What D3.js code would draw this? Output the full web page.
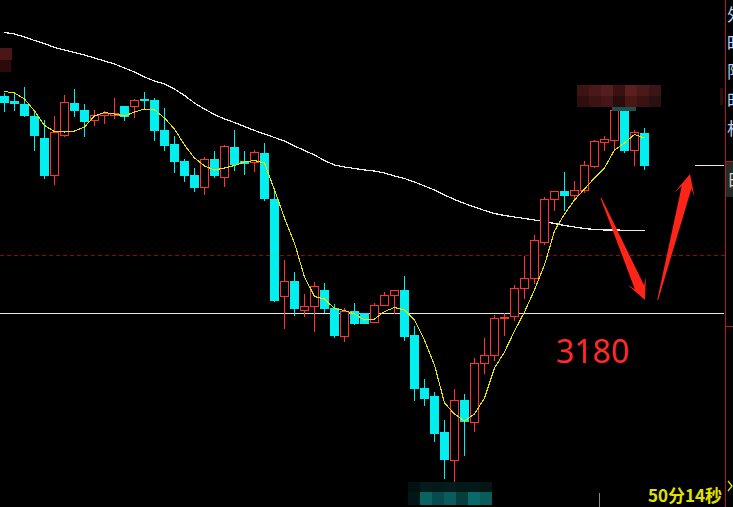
<!DOCTYPE html>
<html><head><meta charset="utf-8">
<script src="https://cdn.jsdelivr.net/npm/d3@7/dist/d3.min.js"></script>
<style>html,body{margin:0;padding:0;background:#000;overflow:hidden}</style>
</head><body><svg id="c" width="733" height="507"></svg>
<script>
// ---- data (index points) ----
const opens  = [3223.4,3222.3,3221.8,3219.4,3215.0,3207.5,3215.7,3222.0,3220.6,3218.7,3219.5,3219.5,3221.4,3221.3,3222.8,3222.6,3216.6,3213.8,3210.4,3207.6,3205.1,3210.8,3207.1,3213.2,3210.4,3210.1,3211.9,3202.8,3183.3,3186.3,3180.5,3181.3,3184.7,3180.9,3175.3,3180.3,3179.9,3178.1,3181.5,3183.5,3184.5,3175.6,3165.0,3163.4,3156.2,3150.5,3162.6,3158.1,3169.9,3171.5,3178.9,3179.3,3184.9,3186.9,3194.1,3202.8,3204.4,3203.5,3204.7,3209.4,3214.1,3214.6,3220.6,3212.7,3215.9];
const highs  = [3223.9,3223.9,3225.2,3220.3,3218.5,3219.4,3223.6,3224.8,3221.8,3220.6,3220.4,3223.0,3221.4,3222.8,3224.2,3223.0,3220.9,3215.4,3210.8,3208.9,3211.1,3212.4,3213.7,3216.6,3212.4,3212.6,3214.0,3204.3,3190.6,3188.1,3183.8,3186.2,3185.9,3181.8,3180.9,3181.9,3180.0,3181.9,3184.1,3184.5,3187.3,3177.3,3166.8,3164.2,3158.6,3164.8,3163.8,3170.9,3174.9,3179.6,3179.9,3185.6,3191.4,3195.6,3203.1,3204.3,3208.2,3206.4,3210.3,3214.7,3215.3,3221.6,3221.6,3216.5,3216.9];
const lows   = [3220.3,3220.6,3219.3,3212.6,3206.9,3205.8,3215.4,3219.3,3215.3,3217.5,3217.9,3218.9,3218.7,3219.1,3220.9,3214.5,3212.7,3208.1,3206.3,3204.3,3203.8,3207.1,3205.3,3208.7,3207.8,3208.3,3202.5,3182.3,3176.9,3179.5,3179.3,3176.3,3180.1,3175.1,3174.4,3177.8,3177.9,3178.1,3181.5,3179.9,3174.6,3162.6,3161.5,3154.3,3147.0,3146.2,3151.5,3156.3,3167.9,3170.6,3175.6,3178.6,3182.9,3185.9,3193.8,3200.5,3200.6,3202.6,3204.1,3209.1,3212.6,3212.6,3212.1,3209.6,3208.8];
const closes = [3222.1,3221.9,3219.7,3215.7,3207.5,3216.1,3222.1,3220.5,3218.3,3219.5,3219.9,3219.9,3219.3,3222.5,3222.5,3216.5,3213.6,3210.3,3207.6,3205.1,3210.8,3207.6,3213.3,3209.8,3209.9,3212.1,3202.9,3182.7,3186.3,3180.9,3181.3,3185.3,3180.9,3175.7,3180.3,3177.9,3177.9,3181.5,3183.5,3184.5,3175.3,3164.9,3162.9,3155.9,3150.8,3162.5,3158.3,3169.9,3171.5,3178.9,3179.1,3184.9,3186.9,3194.6,3202.8,3204.3,3203.5,3204.7,3209.5,3214.4,3214.8,3220.5,3212.6,3216.1,3209.5];
const maShort = [3224.3,3224.0,3222.8,3220.4,3217.5,3216.3,3216.2,3216.4,3217.2,3219.4,3220.1,3219.8,3219.4,3220.2,3220.8,3220.6,3219.0,3216.8,3213.6,3211.0,3209.4,3208.6,3209.0,3209.5,3210.2,3210.5,3210.0,3204.6,3199.0,3194.0,3187.2,3183.3,3182.8,3180.9,3180.5,3179.8,3178.6,3178.8,3180.3,3181.1,3180.6,3178.6,3174.6,3169.6,3162.0,3159.8,3158.4,3159.8,3163.0,3169.0,3172.2,3176.4,3180.2,3184.6,3189.6,3196.4,3199.8,3202.6,3204.8,3207.0,3209.0,3212.6,3214.0,3215.7,3215.0];
const maLong  = [3236.1,3235.8,3235.2,3234.5,3233.9,3233.1,3232.6,3232.1,3231.6,3231.0,3230.4,3229.8,3229.0,3228.2,3227.2,3226.4,3225.8,3224.8,3223.5,3222.0,3220.8,3219.7,3218.8,3218.1,3217.3,3216.5,3215.8,3215.1,3214.4,3213.4,3212.5,3211.6,3210.5,3209.6,3209.2,3208.9,3208.6,3208.4,3208.0,3207.4,3206.9,3206.2,3205.4,3204.6,3203.6,3202.7,3201.9,3201.2,3200.5,3199.9,3199.5,3199.2,3198.9,3198.6,3198.3,3197.9,3197.5,3197.2,3196.9,3196.7,3196.6,3196.6,3196.56,3196.54,3196.54];
const supportLevel = 3180;
const dashedLevel = 3191.5;
const shortLevel = 3209.6;
const labelText = "3180";
const timerText = "50分14秒";
const sideChars = ["外","昨","限","时","相"];
// arrows in (index, price): tail -> tip
const arrows = [
  {from:[59.7,3203.0], to:[64.1,3182.6]},
  {from:[65.37,3182.6], to:[68.6,3207.8]}
];

// ---- drawing ----
const W = 733, H = 507;
const svg = d3.select('#c');
svg.append('rect').attr('width', W).attr('height', H).attr('fill', '#000');

const x = d3.scaleLinear().domain([0, 64]).range([4, 644]);
const y = d3.scaleLinear().domain([3141.2, 3242.6]).range([507, 0]);
const R = v => Math.round(y(v));

const RED = '#ff3333', CYAN = '#00f0f0';

// horizontal levels
svg.append('line').attr('x1', 0).attr('x2', 725).attr('y1', R(dashedLevel) + 0.5).attr('y2', R(dashedLevel) + 0.5)
  .attr('stroke', '#8a0a0a').attr('stroke-dasharray', '4,3');
svg.append('line').attr('x1', 0).attr('x2', 724).attr('y1', R(supportLevel) + 0.5).attr('y2', R(supportLevel) + 0.5)
  .attr('stroke', '#e6e6e6');
svg.append('line').attr('x1', 695).attr('x2', 724).attr('y1', R(shortLevel) + 0.5).attr('y2', R(shortLevel) + 0.5)
  .attr('stroke', '#e6e6e6');

// long MA
const line = d3.line().x((d, i) => x(i) + 0.5).y(d => y(d));
svg.append('path').attr('d', line(maLong)).attr('fill', 'none').attr('stroke', '#ececec')
  .attr('stroke-width', 1.2).attr('shape-rendering', 'crispEdges');

// candles
const idx = d3.range(opens.length);
const g = svg.append('g').attr('shape-rendering', 'crispEdges');
g.selectAll('line.w').data(idx).join('line').attr('class', 'w')
  .attr('x1', i => x(i) + 0.5).attr('x2', i => x(i) + 0.5)
  .attr('y1', i => R(highs[i])).attr('y2', i => R(lows[i]) + 1)
  .attr('stroke', i => closes[i] >= opens[i] ? RED : CYAN);
g.selectAll('rect.b').data(idx).join('rect').attr('class', 'b')
  .each(function(i) {
    const up = closes[i] >= opens[i];
    const top = R(Math.max(opens[i], closes[i])), bot = R(Math.min(opens[i], closes[i]));
    const s = d3.select(this);
    if (up) {
      s.attr('x', x(i) - 4 + 0.5).attr('width', 8).attr('y', top + 0.5).attr('height', Math.max(1, bot - top))
        .attr('fill', '#000').attr('stroke', RED).attr('stroke-width', 1);
    } else {
      s.attr('x', x(i) - 4).attr('width', 9).attr('y', top).attr('height', Math.max(1, bot - top + 1))
        .attr('fill', CYAN);
    }
  });

// short MA
svg.append('path').attr('d', line(maShort)).attr('fill', 'none').attr('stroke', '#e6e600')
  .attr('stroke-width', 1.1).attr('shape-rendering', 'crispEdges');

// mosaics (redacted labels)
const mosaicTop = [['#3c1414','#4a1818','#551e1e','#3a1010','#5a2020','#4a1a1a','#3a1616'],
                   ['#2e0e0e','#3c1212','#461616','#2a0c0c','#4a1616','#3a1212','#2a1010']];
mosaicTop.forEach((row, r) => row.forEach((c, k) =>
  svg.append('rect').attr('x', 577 + k * 12).attr('y', 85 + r * 11).attr('width', 12).attr('height', 11).attr('fill', c)));
svg.append('rect').attr('x', 612).attr('y', 107).attr('width', 24).attr('height', 4).attr('fill', '#1e5050');
const mosaicBottom = [['#021010','#041c1c','#041a1a','#061c1c','#031818','#041a1a','#031616'],
                      ['#021616','#0a6262','#074c4c','#0a5c5c','#063e3e','#0a6a6a','#085c5c']];
mosaicBottom.forEach((row, r) => row.forEach((c, k) =>
  svg.append('rect').attr('x', 408 + k * 12).attr('y', 482 + r * 10).attr('width', 12).attr('height', r ? 13 : 10).attr('fill', c)));
svg.append('rect').attr('x', 0).attr('y', 48).attr('width', 12).attr('height', 12).attr('fill', '#4a1616');
svg.append('rect').attr('x', 0).attr('y', 60).attr('width', 11).attr('height', 12).attr('fill', '#2a0a0a');
svg.append('rect').attr('x', 720).attr('y', 88).attr('width', 3).attr('height', 17).attr('fill', '#2a0c0c');

// arrows
function arrowPath(a) {
  const [x0, y0] = [x(a.from[0]), y(a.from[1])];
  const [x1, y1] = [x(a.to[0]), y(a.to[1])];
  const dx = x1 - x0, dy = y1 - y0, L = Math.hypot(dx, dy);
  const ux = dx / L, uy = dy / L, nx = -uy, ny = ux;
  const hl = 19, hw = 10, sw = 5, notch = 5;
  const P = (t, o) => [x0 + ux * t + nx * o, y0 + uy * t + ny * o];
  const pts = [P(0, 0.5), P(L - hl + notch, sw), P(L - hl - 2, hw), [x1, y1], P(L - hl - 2, -hw), P(L - hl + notch, -sw), P(0, -0.5)];
  return 'M' + pts.map(p => p.join(',')).join('L') + 'Z';
}
svg.selectAll('path.arrow').data(arrows).join('path').attr('class', 'arrow')
  .attr('d', arrowPath).attr('fill', '#ff2418');

// texts
svg.append('text').attr('x', 556).attr('y', 363).text(labelText)
  .attr('font-family', '"Noto Sans", sans-serif').attr('font-size', 32).attr('fill', '#ff2a2a');
svg.append('text').attr('x', 722).attr('y', 502).attr('text-anchor', 'end').text(timerText)
  .attr('font-family', '"Noto Sans CJK SC", sans-serif').attr('font-size', 17).attr('font-weight', 'bold').attr('fill', '#e2e200');
svg.append('line').attr('x1', 599.5).attr('x2', 599.5).attr('y1', 493).attr('y2', 507).attr('stroke', '#8a8a8a');

// right panel (clipped)
svg.append('rect').attr('x', 726).attr('y', 161).attr('width', 7).attr('height', 36).attr('fill', '#262b26');
svg.append('line').attr('x1', 725).attr('x2', 733).attr('y1', 161.5).attr('y2', 161.5).attr('stroke', '#c01818');
svg.append('line').attr('x1', 725).attr('x2', 733).attr('y1', 326.5).attr('y2', 326.5).attr('stroke', '#c01818');
svg.append('line').attr('x1', 725.5).attr('x2', 725.5).attr('y1', 0).attr('y2', 507).attr('stroke', '#b81818');
svg.selectAll('text.side').data(sideChars).join('text').attr('class', 'side')
  .attr('x', 727).attr('y', (d, i) => 21 + i * 28.5).text(d => d)
  .attr('font-family', '"Noto Sans CJK SC", sans-serif').attr('font-size', 17).attr('fill', '#b8d4f4');
svg.append('text').attr('x', 727).attr('y', 186).text('日')
  .attr('font-family', '"Noto Sans CJK SC", sans-serif').attr('font-size', 16).attr('fill', '#d8d8d8');
svg.append('path').attr('d', 'M728,481L732,486L728,491').attr('fill', 'none').attr('stroke', '#e2e200').attr('stroke-width', 1.3);
</script></body></html>
